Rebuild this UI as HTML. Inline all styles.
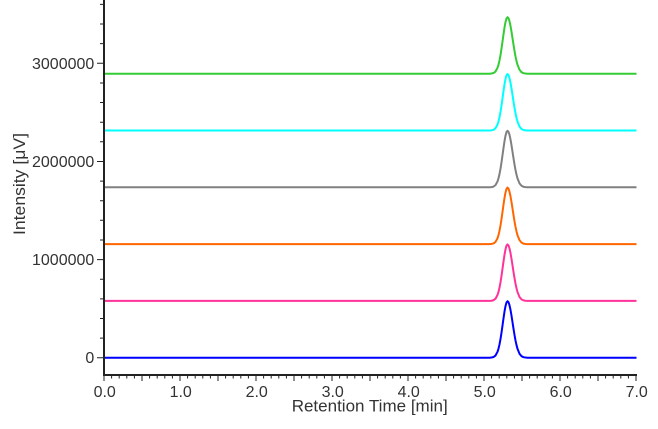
<!DOCTYPE html>
<html>
<head>
<meta charset="utf-8">
<style>
html,body{margin:0;padding:0;background:#fff;}
svg{display:block;}
text{font-family:"Liberation Sans","DejaVu Sans",sans-serif;fill:#333;}
</style>
</head>
<body>
<svg width="658" height="429" viewBox="0 0 658 429" xmlns="http://www.w3.org/2000/svg">
<defs>
<path id="pk" fill="none" stroke-width="2" stroke-linejoin="round" d="M104 0 H489.5 L491.5 -0.17 493.5 -0.67 495.5 -2.17 497.5 -5.88 498.5 -9.04 499.5 -13.27 500.5 -18.63 501.5 -25.01 502.5 -32.09 503.5 -39.34 504.5 -46.09 505.5 -51.61 506.5 -55.23 507.5 -56.5 508.5 -55.47 509.5 -52.47 510.5 -47.84 511.5 -42.03 512.5 -35.58 513.5 -29.03 514.5 -22.83 515.5 -17.3 516.5 -12.63 517.5 -8.89 519.5 -3.94 521.5 -1.51 523.5 -0.5 525.5 -0.14 527.5 0 H636.5"/>
</defs>

<!-- traces -->
<use href="#pk" transform="translate(0,357.7)" stroke="#0000ff"/>
<use href="#pk" transform="translate(0,300.9)" stroke="#ff3399"/>
<use href="#pk" transform="translate(0,244.1)" stroke="#ff6600"/>
<use href="#pk" transform="translate(0,187.3)" stroke="#808080"/>
<use href="#pk" transform="translate(0,130.5)" stroke="#00ffff"/>
<use href="#pk" transform="translate(0,73.7)" stroke="#33cc33"/>

<!-- axes -->
<g stroke="#222" fill="none">
<path d="M104 0 V376" stroke-width="2"/>
<path d="M103 375 H637" stroke-width="2"/>
<path stroke-width="1" d="M97 357.7H104M97 259.57H104M97 161.44H104M97 63.31H104"/>
<path stroke-width="1" d="M100 338.07H104M100 318.45H104M100 298.82H104M100 279.2H104M100 239.94H104M100 220.3H104M100 200.7H104M100 181.07H104M100 141.8H104M100 122.2H104M100 102.56H104M100 82.94H104M100 43.68H104M100 24.06H104M100 4.43H104"/>
<path stroke-width="1" d="M104 376V381M142 376V381M180 376V381M218 376V381M256 376V381M294 376V381M332 376V381M370 376V381M408 376V381M446 376V381M484 376V381M522 376V381M560 376V381M598 376V381M636 376V381"/>
<path stroke-width="1" d="M111.6 376V378.5M119.2 376V378.5M126.8 376V378.5M134.4 376V378.5M149.6 376V378.5M157.2 376V378.5M164.8 376V378.5M172.4 376V378.5M187.6 376V378.5M195.2 376V378.5M202.8 376V378.5M210.4 376V378.5M225.6 376V378.5M233.2 376V378.5M240.8 376V378.5M248.4 376V378.5M263.6 376V378.5M271.2 376V378.5M278.8 376V378.5M286.4 376V378.5M301.6 376V378.5M309.2 376V378.5M316.8 376V378.5M324.4 376V378.5M339.6 376V378.5M347.2 376V378.5M354.8 376V378.5M362.4 376V378.5M377.6 376V378.5M385.2 376V378.5M392.8 376V378.5M400.4 376V378.5M415.6 376V378.5M423.2 376V378.5M430.8 376V378.5M438.4 376V378.5M453.6 376V378.5M461.2 376V378.5M468.8 376V378.5M476.4 376V378.5M491.6 376V378.5M499.2 376V378.5M506.8 376V378.5M514.4 376V378.5M529.6 376V378.5M537.2 376V378.5M544.8 376V378.5M552.4 376V378.5M567.6 376V378.5M575.2 376V378.5M582.8 376V378.5M590.4 376V378.5M605.6 376V378.5M613.2 376V378.5M620.8 376V378.5M628.4 376V378.5"/>
</g>

<!-- y tick labels -->
<g font-size="16" text-anchor="end">
<text x="94.3" y="363.2">0</text>
<text x="94.3" y="265.1">1000000</text>
<text x="94.3" y="166.9">2000000</text>
<text x="94.3" y="68.8">3000000</text>
</g>

<!-- x tick labels -->
<g font-size="16" text-anchor="middle">
<text x="104.7" y="397">0.0</text>
<text x="180.7" y="397">1.0</text>
<text x="256.7" y="397">2.0</text>
<text x="332.7" y="397">3.0</text>
<text x="408.7" y="397">4.0</text>
<text x="484.7" y="397">5.0</text>
<text x="560.7" y="397">6.0</text>
<text x="636.7" y="397">7.0</text>
</g>

<!-- axis labels -->
<text x="291.7" y="411.5" font-size="17" textLength="156" lengthAdjust="spacingAndGlyphs">Retention Time [min]</text>
<text transform="translate(25,235) rotate(-90)" x="0" y="0" font-size="17" textLength="102" lengthAdjust="spacingAndGlyphs">Intensity [μV]</text>
</svg>
</body>
</html>
